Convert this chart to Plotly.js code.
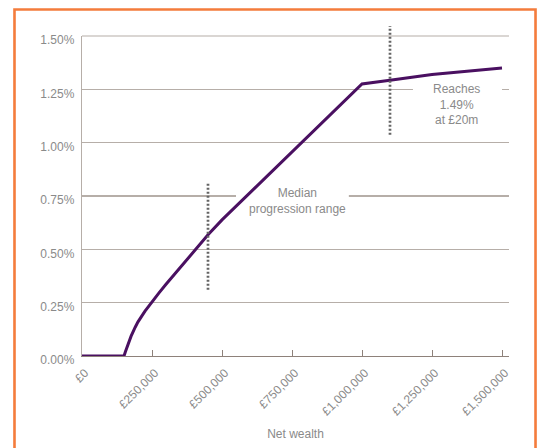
<!DOCTYPE html>
<html>
<head>
<meta charset="utf-8">
<script src="https://cdn.plot.ly/plotly-3.0.1.min.js"></script>
<style>
  html, body { margin: 0; padding: 0; background: #ffffff; }
  #chart { width: 541px; height: 448px; }
</style>
</head>
<body>
<div id="chart"></div>
<script>
// Effective annual rate by net wealth
const wealth = [0, 150000, 155000, 165000, 175000, 190000, 200000, 225000, 250000, 275000,
                300000, 350000, 400000, 450000, 500000, 600000, 700000, 800000, 900000,
                1000000, 1100000, 1250000, 1500000];
const effectiveRate = [0, 0, 0.020, 0.058, 0.092, 0.135, 0.160, 0.210, 0.254, 0.296,
                       0.336, 0.415, 0.494, 0.568, 0.638, 0.765, 0.893, 1.020, 1.148,
                       1.275, 1.293, 1.320, 1.350];

// Axis ticks
const xTickValues = [0, 250000, 500000, 750000, 1000000, 1250000, 1500000];
const xTickLabels = ['£0', '£250,000', '£500,000', '£750,000', '£1,000,000', '£1,250,000', '£1,500,000'];
const yTickValues = [0, 0.25, 0.5, 0.75, 1.0, 1.25, 1.5];
const yTickLabels = ['0.00%', '0.25%', '0.50%', '0.75%', '1.00%', '1.25%', '1.50%'];

// Dotted range markers (wealth, low %, high %)
const markerWealth = [450000, 1100000];
const markerLow = [0.311, 1.037];
const markerHigh = [0.817, 1.547];

// Callout labels
const noteText = ['Median<br>progression range', 'Reaches<br>1.49%<br>at £20m'];
const noteWealth = [771000, 1336000];
const noteRate = [0.727, 1.177];
// gaps cut into the gridline behind each callout: [x0, x1, y]
const noteGaps = [[550000, 953000, 0.75], [1182000, 1500000, 1.25]];

const xRange = [0, 1525000];
const yRange = [0, 1.5];

const grey = '#8a8a8a';
const gridGrey = '#b6aea8';
const textFont = { family: 'Liberation Sans, Arial, sans-serif', size: 12, color: grey };

function yPaper(v) { return (v - yRange[0]) / (yRange[1] - yRange[0]); }

const shapes = [];

// top gridline sits on the edge of the plot area, so draw it unclipped
shapes.push({
  type: 'line', xref: 'paper', yref: 'paper', layer: 'above',
  x0: 0, x1: 1, y0: yPaper(yTickValues[yTickValues.length - 1]), y1: yPaper(yTickValues[yTickValues.length - 1]),
  line: { color: gridGrey, width: 1.2 }
});

// white breaks in the gridlines under the callout text
noteGaps.forEach(g => {
  shapes.push({
    type: 'rect', xref: 'x', yref: 'y', layer: 'between',
    x0: g[0], x1: g[1], y0: g[2] - 0.03, y1: g[2] + 0.03,
    fillcolor: '#ffffff', line: { width: 0 }
  });
});

// dotted vertical markers
markerWealth.forEach((w, i) => {
  shapes.push({
    type: 'line', xref: 'x', yref: 'paper', layer: 'above',
    x0: w, x1: w, y0: yPaper(markerLow[i]), y1: yPaper(markerHigh[i]),
    line: { color: '#646464', width: 2.7, dash: '2px,2px' }
  });
});

// orange frame round the figure
shapes.push({
  type: 'rect', xref: 'paper', yref: 'paper', layer: 'above',
  x0: -0.1581, x1: 1.0621, y0: -0.40, y1: 1.0828,
  fillcolor: 'rgba(0,0,0,0)', line: { color: '#f47c3c', width: 2.6 }
});

const annotations = noteText.map((t, i) => ({
  x: noteWealth[i], y: noteRate[i], xref: 'x', yref: 'y',
  text: t, showarrow: false, font: textFont, align: 'center',
  xanchor: 'center', yanchor: 'middle'
}));

const trace = {
  x: wealth, y: effectiveRate, type: 'scatter', mode: 'lines',
  line: { color: '#4a1061', width: 3 },
  hoverinfo: 'skip'
};

const layout = {
  width: 541, height: 448,
  margin: { l: 82, r: 32, t: 36, b: 92, pad: 0 },
  paper_bgcolor: '#ffffff', plot_bgcolor: '#ffffff',
  showlegend: false,
  font: textFont,
  xaxis: {
    range: xRange, fixedrange: true,
    tickvals: xTickValues, ticktext: xTickLabels, tickangle: -45,
    tickfont: textFont,
    showgrid: false, zeroline: false,
    showline: true, linecolor: '#8e817a', linewidth: 1.2,
    ticks: 'inside', ticklen: 6, tickwidth: 1, tickcolor: '#8e817a',
    ticklabelstandoff: 4, ticklabelshift: 3,
    title: { text: 'Net wealth', font: textFont, standoff: 12 }
  },
  yaxis: {
    range: yRange, fixedrange: true,
    tickvals: yTickValues, ticktext: yTickLabels,
    tickfont: textFont,
    showgrid: true, gridcolor: gridGrey, gridwidth: 1.2,
    zeroline: false,
    showline: true, linecolor: gridGrey, linewidth: 1.2,
    ticks: '', ticklabelstandoff: 4, ticklabelshift: 4
  },
  shapes: shapes,
  annotations: annotations
};

Plotly.newPlot('chart', [trace], layout, { staticPlot: true, displayModeBar: false });
</script>
</body>
</html>
